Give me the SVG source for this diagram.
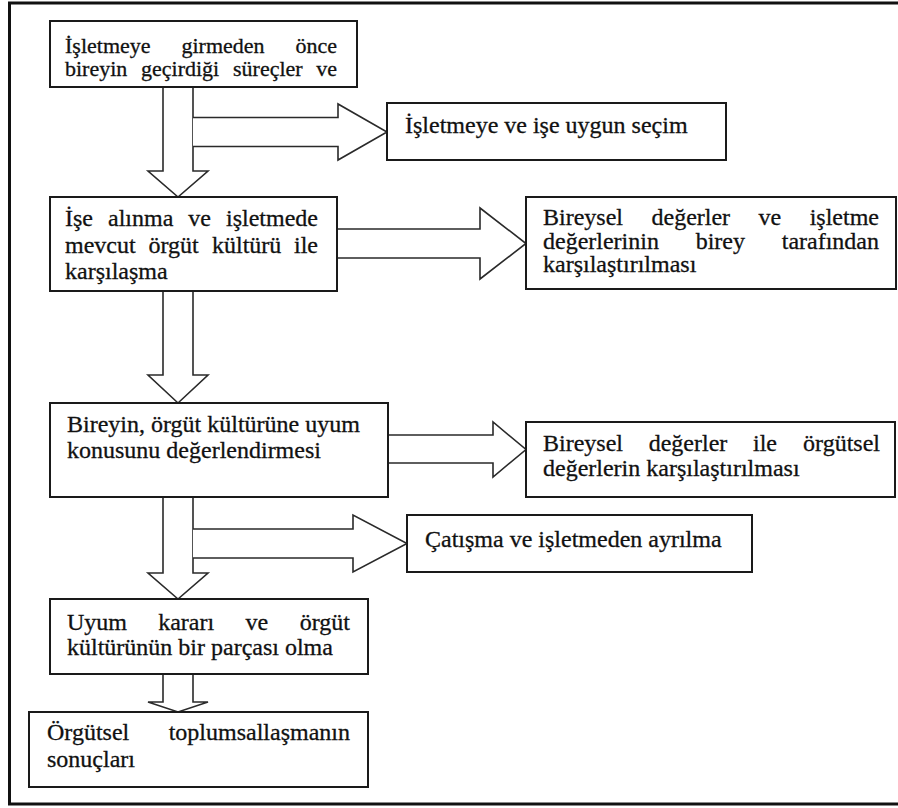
<svg xmlns="http://www.w3.org/2000/svg" width="898" height="808" viewBox="0 0 898 808">
<style>
.box{fill:#fff;stroke:#1a1a1a;stroke-width:2}
.arr{fill:#fff;stroke:#2a2a2a;stroke-width:1.6;stroke-linejoin:miter}
.t{font-family:'Liberation Serif','DejaVu Serif',serif;font-size:24px;fill:#111;stroke:#111;stroke-width:0.3}
.s22{font-size:22px}
</style>
<rect x="0" y="0" width="898" height="808" fill="#fff"/>
<rect id="frame" x="9.5" y="3" width="900" height="801" fill="none" stroke="#111" stroke-width="3"/>
<g id="connectors">
<polygon class="arr" points="163,87 193,87 193,171 208,171 178,197 148,171 163,171"/>
<path class="arr" d="M193,117.5 H338 V104 L387,132 L338,160 V146.5 H193"/>
<polygon class="arr" points="163,291 193,291 193,375 208,375 178,403 148,375 163,375"/>
<path class="arr" d="M337,229 H480 V208 L526,243.5 L480,279 V258 H337"/>
<polygon class="arr" points="163,497 193,497 193,573 208,573 178,599 148,573 163,573"/>
<path class="arr" d="M388,435 H493 V422 L526,449.5 L493,477 V463 H388"/>
<path class="arr" d="M193,529 H353 V515 L407,543.5 L353,572 V558 H193"/>
<polygon class="arr" points="163,674 193,674 193,702 208,702 178,712 148,702 163,702"/>
</g>
<g class="t" font-family="Liberation Serif, DejaVu Serif, serif">
<g id="n1">
<rect class="box" x="50" y="21" width="307" height="66"/>
<text class="s22" y="52.5"><tspan x="65">İşletmeye</tspan><tspan x="181.5">girmeden</tspan><tspan x="337" text-anchor="end">önce</tspan></text>
<text class="s22" y="75.5"><tspan x="65">bireyin</tspan><tspan x="141">geçirdiği</tspan><tspan x="233">süreçler</tspan><tspan x="337" text-anchor="end">ve</tspan></text>
</g>
<g id="n2">
<rect class="box" x="387" y="103" width="339" height="57"/>
<text x="405" y="133">İşletmeye ve işe uygun seçim</text>
</g>
<g id="n3">
<rect class="box" x="50" y="197" width="287" height="94"/>
<text y="226"><tspan x="65">İşe</tspan><tspan x="108">alınma</tspan><tspan x="188.3">ve</tspan><tspan x="318" text-anchor="end">işletmede</tspan></text>
<text y="253"><tspan x="65">mevcut</tspan><tspan x="148.5">örgüt</tspan><tspan x="212">kültürü</tspan><tspan x="318" text-anchor="end">ile</tspan></text>
<text x="65" y="279">karşılaşma</text>
</g>
<g id="n4">
<rect class="box" x="526" y="197" width="370" height="92"/>
<text y="225"><tspan x="543">Bireysel</tspan><tspan x="651.5">değerler</tspan><tspan x="758.6">ve</tspan><tspan x="879" text-anchor="end">işletme</tspan></text>
<text y="248.5"><tspan x="543">değerlerinin</tspan><tspan x="695.7">birey</tspan><tspan x="879" text-anchor="end">tarafından</tspan></text>
<text x="543" y="272">karşılaştırılması</text>
</g>
<g id="n5">
<rect class="box" x="50" y="403" width="338" height="94"/>
<text x="67" y="432">Bireyin, örgüt kültürüne uyum</text>
<text x="67" y="458">konusunu değerlendirmesi</text>
</g>
<g id="n6">
<rect class="box" x="526" y="422" width="369" height="75"/>
<text y="451"><tspan x="543">Bireysel</tspan><tspan x="648.7">değerler</tspan><tspan x="753">ile</tspan><tspan x="880" text-anchor="end">örgütsel</tspan></text>
<text x="543" y="476">değerlerin karşılaştırılması</text>
</g>
<g id="n7">
<rect class="box" x="407" y="515" width="345" height="57"/>
<text x="425" y="547">Çatışma ve işletmeden ayrılma</text>
</g>
<g id="n8">
<rect class="box" x="50" y="599" width="318" height="75"/>
<text y="630"><tspan x="67">Uyum</tspan><tspan x="158.2">kararı</tspan><tspan x="245.4">ve</tspan><tspan x="350" text-anchor="end">örgüt</tspan></text>
<text x="67" y="655">kültürünün bir parçası olma</text>
</g>
<g id="n9">
<rect class="box" x="29" y="712" width="339" height="75"/>
<text y="740"><tspan x="47">Örgütsel</tspan><tspan x="350" text-anchor="end">toplumsallaşmanın</tspan></text>
<text x="47" y="767">sonuçları</text>
</g>
</g>
</svg>
